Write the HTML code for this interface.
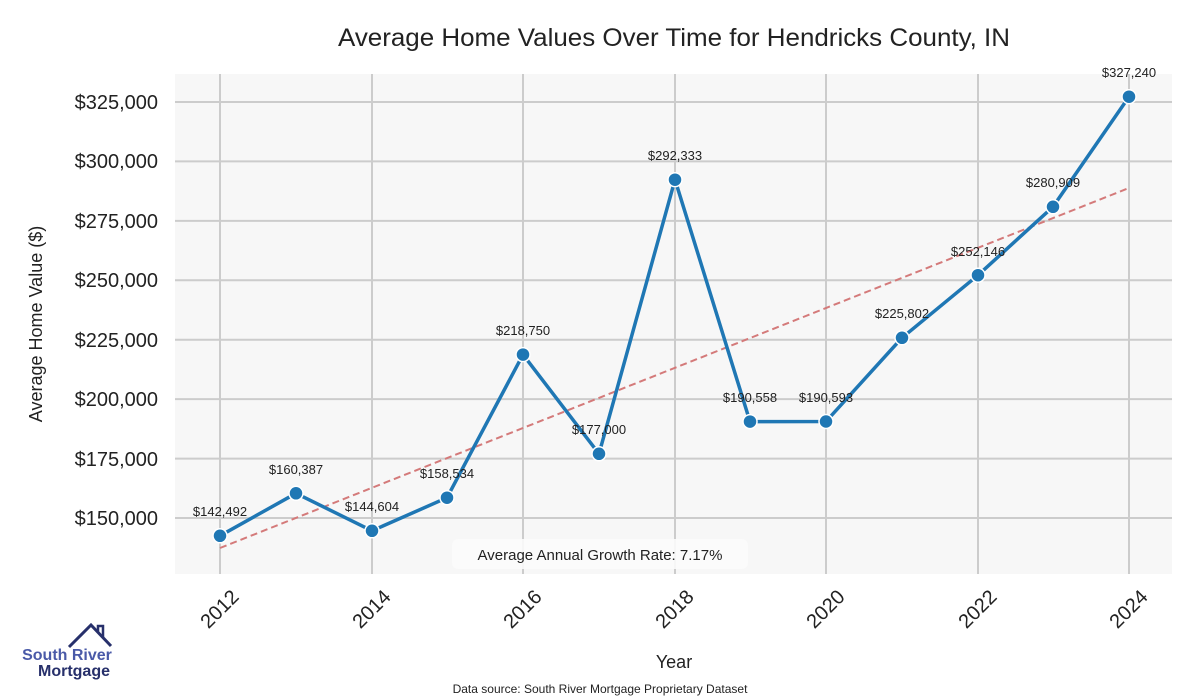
<!DOCTYPE html>
<html><head><meta charset="utf-8"><style>
body{margin:0;background:#fff;width:1200px;height:700px;overflow:hidden}
svg{display:block;font-family:"Liberation Sans",sans-serif}
</style></head><body>
<svg width="1200" height="700" viewBox="0 0 1200 700">
<text x="674" y="46" font-size="25" text-anchor="middle" fill="#222" textLength="672" lengthAdjust="spacingAndGlyphs">Average Home Values Over Time for Hendricks County, IN</text>
<rect x="175" y="74" width="997" height="500" fill="#f7f7f7"/>
<g stroke="#cccccc" stroke-width="2">
<line x1="220" y1="74" x2="220" y2="574"/><line x1="372" y1="74" x2="372" y2="574"/>
<line x1="523" y1="74" x2="523" y2="574"/><line x1="675" y1="74" x2="675" y2="574"/>
<line x1="826" y1="74" x2="826" y2="574"/><line x1="978" y1="74" x2="978" y2="574"/>
<line x1="1129" y1="74" x2="1129" y2="574"/>
<line x1="175" y1="102" x2="1172" y2="102"/><line x1="175" y1="161.4" x2="1172" y2="161.4"/>
<line x1="175" y1="220.9" x2="1172" y2="220.9"/><line x1="175" y1="280.3" x2="1172" y2="280.3"/>
<line x1="175" y1="339.7" x2="1172" y2="339.7"/><line x1="175" y1="399.1" x2="1172" y2="399.1"/>
<line x1="175" y1="458.6" x2="1172" y2="458.6"/><line x1="175" y1="518" x2="1172" y2="518"/>
</g>
<g font-size="20" fill="#222" text-anchor="end">
<text x="158" y="109">$325,000</text><text x="158" y="168">$300,000</text>
<text x="158" y="228">$275,000</text><text x="158" y="287">$250,000</text>
<text x="158" y="347">$225,000</text><text x="158" y="406">$200,000</text>
<text x="158" y="466">$175,000</text><text x="158" y="525">$150,000</text>
</g>
<text transform="translate(42,324) rotate(-90)" font-size="18" fill="#222" text-anchor="middle">Average Home Value ($)</text>
<g font-size="20" fill="#222" text-anchor="end">
<text transform="translate(240,598) rotate(-45)">2012</text>
<text transform="translate(392,598) rotate(-45)">2014</text>
<text transform="translate(543,598) rotate(-45)">2016</text>
<text transform="translate(695,598) rotate(-45)">2018</text>
<text transform="translate(846,598) rotate(-45)">2020</text>
<text transform="translate(998,598) rotate(-45)">2022</text>
<text transform="translate(1149,598) rotate(-45)">2024</text>
</g>
<text x="674" y="668" font-size="18" fill="#222" text-anchor="middle">Year</text>
<text x="600" y="693" font-size="12" fill="#222" text-anchor="middle">Data source: South River Mortgage Proprietary Dataset</text>
<line x1="220" y1="548" x2="1129" y2="188" stroke="#d47a7a" stroke-width="2" stroke-dasharray="7,4"/>
<rect x="452" y="539" width="296" height="30" rx="6" fill="#fbfbfb" opacity="0.9"/>
<text x="600" y="560" font-size="15" fill="#222" text-anchor="middle">Average Annual Growth Rate: 7.17%</text>
<polyline fill="none" stroke="#1f77b4" stroke-width="3.5" stroke-linejoin="round" points="220,535.8 296,493.3 372,530.8 447,497.7 523,354.6 599,453.8 675,179.7 750,421.6 826,421.5 902,337.8 978,275.2 1053,206.8 1129,96.7"/>
<g fill="#1f77b4" stroke="#fff" stroke-width="1.5">
<circle cx="220" cy="535.8" r="7"/><circle cx="296" cy="493.3" r="7"/><circle cx="372" cy="530.8" r="7"/>
<circle cx="447" cy="497.7" r="7"/><circle cx="523" cy="354.6" r="7"/><circle cx="599" cy="453.8" r="7"/>
<circle cx="675" cy="179.7" r="7"/><circle cx="750" cy="421.6" r="7"/><circle cx="826" cy="421.5" r="7"/>
<circle cx="902" cy="337.8" r="7"/><circle cx="978" cy="275.2" r="7"/><circle cx="1053" cy="206.8" r="7"/>
<circle cx="1129" cy="96.7" r="7"/>
</g>
<g font-size="13" fill="#222" text-anchor="middle">
<text x="220" y="516">$142,492</text><text x="296" y="474">$160,387</text><text x="372" y="511">$144,604</text>
<text x="447" y="478">$158,534</text><text x="523" y="335">$218,750</text><text x="599" y="434">$177,000</text>
<text x="675" y="160">$292,333</text><text x="750" y="402">$190,558</text><text x="826" y="402">$190,593</text>
<text x="902" y="318">$225,802</text><text x="978" y="256">$252,146</text><text x="1053" y="187">$280,909</text>
<text x="1129" y="77">$327,240</text>
</g>
<polyline fill="none" stroke="#27306b" stroke-width="3" points="69,647 91,625 111,646"/>
<polyline fill="none" stroke="#27306b" stroke-width="2.5" points="98,633 98,626 103,626 103,638"/>
<text x="67" y="660" font-size="16" font-weight="bold" fill="#4a5aa8" text-anchor="middle">South River</text>
<text x="74" y="676" font-size="16" font-weight="bold" fill="#27306b" text-anchor="middle">Mortgage</text>
</svg>
</body></html>
